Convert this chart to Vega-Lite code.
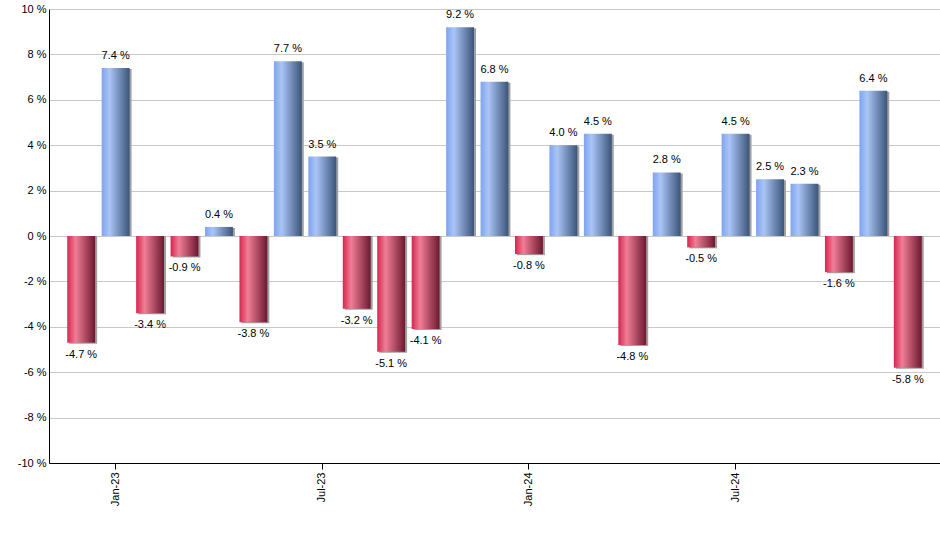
{
  "$schema": "https://vega.github.io/schema/vega-lite/v6.json",
  "width": 891,
  "height": 454,
  "autosize": {"type": "none"},
  "padding": {"left": 49, "top": 9, "right": 0, "bottom": 87},
  "background": "white",
  "config": {
    "view": {"stroke": null},
    "font": "Liberation Sans",
    "axis": {"labelFont": "Liberation Sans", "labelFontSize": 11, "labelColor": "#000000"}
  },
  "data": {
    "values": [
      {"m": "Dec-22", "r": -4.7},
      {"m": "Jan-23", "r": 7.4},
      {"m": "Feb-23", "r": -3.4},
      {"m": "Mar-23", "r": -0.9},
      {"m": "Apr-23", "r": 0.4},
      {"m": "May-23", "r": -3.8},
      {"m": "Jun-23", "r": 7.7},
      {"m": "Jul-23", "r": 3.5},
      {"m": "Aug-23", "r": -3.2},
      {"m": "Sep-23", "r": -5.1},
      {"m": "Oct-23", "r": -4.1},
      {"m": "Nov-23", "r": 9.2},
      {"m": "Dec-23", "r": 6.8},
      {"m": "Jan-24", "r": -0.8},
      {"m": "Feb-24", "r": 4.0},
      {"m": "Mar-24", "r": 4.5},
      {"m": "Apr-24", "r": -4.8},
      {"m": "May-24", "r": 2.8},
      {"m": "Jun-24", "r": -0.5},
      {"m": "Jul-24", "r": 4.5},
      {"m": "Aug-24", "r": 2.5},
      {"m": "Sep-24", "r": 2.3},
      {"m": "Oct-24", "r": -1.6},
      {"m": "Nov-24", "r": 6.4},
      {"m": "Dec-24", "r": -5.8}
    ]
  },
  "encoding": {
    "x": {
      "field": "m", "type": "ordinal", "sort": null,
      "scale": {"paddingInner": 0.19, "paddingOuter": 0.53},
      "axis": {
        "title": null,
        "values": ["Jan-23", "Jul-23", "Jan-24", "Jul-24"],
        "labelAngle": -90,
        "domainColor": "#000000",
        "tickColor": "#000000",
        "tickSize": 6,
        "labelPadding": 3,
        "grid": false
      }
    },
    "y": {
      "field": "r", "type": "quantitative",
      "scale": {"domain": [-10, 10], "nice": false, "zero": true},
      "axis": {
        "title": null,
        "values": [-10, -8, -6, -4, -2, 0, 2, 4, 6, 8, 10],
        "labelExpr": "datum.value + ' %'",
        "grid": true,
        "gridColor": "#c8c8c8",
        "ticks": false,
        "domainColor": "#000000",
        "labelPadding": 3,
        "zindex": 0
      }
    }
  },
  "layer": [
    {
      "mark": {"type": "bar", "color": "#a0a0a0", "xOffset": 2, "yOffset": 1},
      "encoding": {"y2": {"datum": 0}}
    },
    {
      "transform": [{"filter": "datum.r >= 0"}],
      "mark": {
        "type": "bar",
        "color": {
          "gradient": "linear", "x1": 0, "y1": 0, "x2": 1, "y2": 0,
          "stops": [
            {"offset": 0, "color": "#7ea4ee"},
            {"offset": 0.28, "color": "#aac5f6"},
            {"offset": 1, "color": "#3b5479"}
          ]
        }
      },
      "encoding": {"y2": {"datum": 0}}
    },
    {
      "transform": [{"filter": "datum.r < 0"}],
      "mark": {
        "type": "bar",
        "color": {
          "gradient": "linear", "x1": 0, "y1": 0, "x2": 1, "y2": 0,
          "stops": [
            {"offset": 0, "color": "#d6264f"},
            {"offset": 0.3, "color": "#ef7e96"},
            {"offset": 1, "color": "#6c1830"}
          ]
        }
      },
      "encoding": {"y2": {"datum": 0}}
    },
    {
      "transform": [{"filter": "datum.r >= 0"}],
      "mark": {
        "type": "text", "dy": -12, "fontSize": 11, "color": "#000000",
        "font": "Liberation Sans",
        "text": {"expr": "format(datum.r, '.1f') + ' %'"}
      }
    },
    {
      "transform": [{"filter": "datum.r < 0"}],
      "mark": {
        "type": "text", "dy": 12, "fontSize": 11, "color": "#000000",
        "font": "Liberation Sans",
        "text": {"expr": "'-' + format(abs(datum.r), '.1f') + ' %'"}
      }
    }
  ]
}
